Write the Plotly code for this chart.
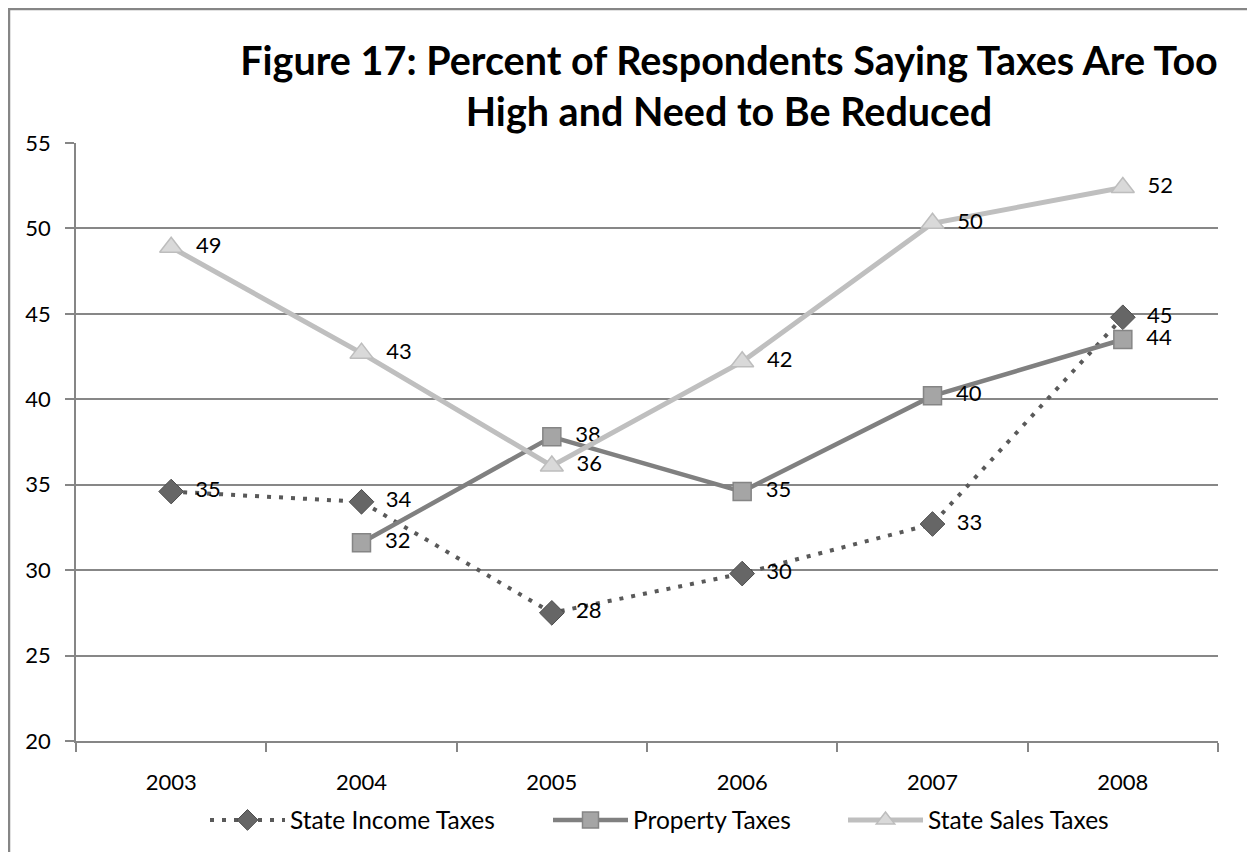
import plotly.graph_objects as go

years = ["2003", "2004", "2005", "2006", "2007", "2008"]
income = [34.6, 34.0, 27.5, 29.8, 32.7, 44.8]
prop = [None, 31.6, 37.8, 34.6, 40.2, 43.5]
sales = [48.9, 42.7, 36.1, 42.2, 50.3, 52.4]

FONT = "Lato"
LBL = "\u00a0\u00a0%{y:.0f}"

# page body has an 8px margin, so figure coords = screen coords - 8
L, T = 68, 135
PW, PH = 1142, 598

fig = go.Figure()
fig.add_trace(go.Scatter(
    x=years, y=income, name="State Income Taxes", mode="lines+markers+text",
    line=dict(color="#595959", width=4, dash="4px,8px"),
    marker=dict(symbol="diamond", size=19, color="#666666", line=dict(color="#4d4d4d", width=1)),
    texttemplate=LBL, textposition="middle right",
    textfont=dict(family=FONT, size=22, color="#000000"),
    legend="legend",
))
fig.add_trace(go.Scatter(
    x=years, y=prop, name="Property Taxes", mode="lines+markers+text",
    line=dict(color="#808080", width=4.5),
    marker=dict(symbol="square", size=18, color="#A5A5A5", line=dict(color="#858585", width=1.5)),
    texttemplate=LBL, textposition="middle right",
    textfont=dict(family=FONT, size=22, color="#000000"),
    legend="legend2",
))
fig.add_trace(go.Scatter(
    x=years, y=sales, name="State Sales Taxes", mode="lines+markers+text",
    line=dict(color="#BFBFBF", width=5),
    marker=dict(symbol="triangle-up", size=20, color="#D9D9D9", line=dict(color="#BDBDBD", width=1.5)),
    texttemplate=LBL, textposition="middle right",
    textfont=dict(family=FONT, size=22, color="#000000"),
    legend="legend3",
))

LEG_Y = (T + PH - 812) / PH


def leg(screen_x):
    return dict(
        orientation="h", x=(screen_x - 8 - 10 - L) / PW, xanchor="left",
        y=LEG_Y, yanchor="middle",
        font=dict(family=FONT, size=24.5), itemwidth=75,
        bgcolor="rgba(0,0,0,0)",
    )


fig.update_layout(
    width=1255, height=852,
    margin=dict(l=L, r=1255 - L - PW, t=T, b=852 - T - PH),
    paper_bgcolor="white", plot_bgcolor="white",
    font=dict(family=FONT, size=22, color="#000000"),
    title=dict(
        text="Figure 17: Percent of Respondents Saying Taxes Are Too<br>High and Need to Be Reduced",
        x=(721 - L) / PW, xref="paper", xanchor="center",
        y=1 - 67 / 852, yref="container", yanchor="middle",
        font=dict(family=FONT, size=39.5, color="#000000", weight="bold"),
    ),
    xaxis=dict(
        type="category", tickson="boundaries", ticks="outside", ticklen=9,
        range=[-0.5, 5.5], autorange=False,
        tickcolor="#868686", tickwidth=1.5,
        showline=True, linecolor="#868686", linewidth=1.5,
        showgrid=False, ticklabelstandoff=21,
        tickfont=dict(family=FONT, size=22),
    ),
    yaxis=dict(
        range=[20, 55], dtick=5, tick0=20, ticks="outside", ticklen=9,
        tickcolor="#868686", tickwidth=1.5,
        showline=True, linecolor="#868686", linewidth=1.5,
        showgrid=True, gridcolor="#878787", gridwidth=1.5,
        zeroline=False, ticklabelstandoff=10,
        tickfont=dict(family=FONT, size=22),
    ),
    legend=leg(215),
    legend2=leg(558),
    legend3=leg(853),
    showlegend=True,
)

fig.add_shape(type="rect", xref="paper", yref="paper",
              x0=(1 - L) / PW, x1=(1244 - L) / PW,
              y0=-0.4, y1=(T + PH - 1) / PH,
              line=dict(color="#868686", width=2.5), fillcolor="rgba(0,0,0,0)", layer="below")

fig.write_html("out.html")
